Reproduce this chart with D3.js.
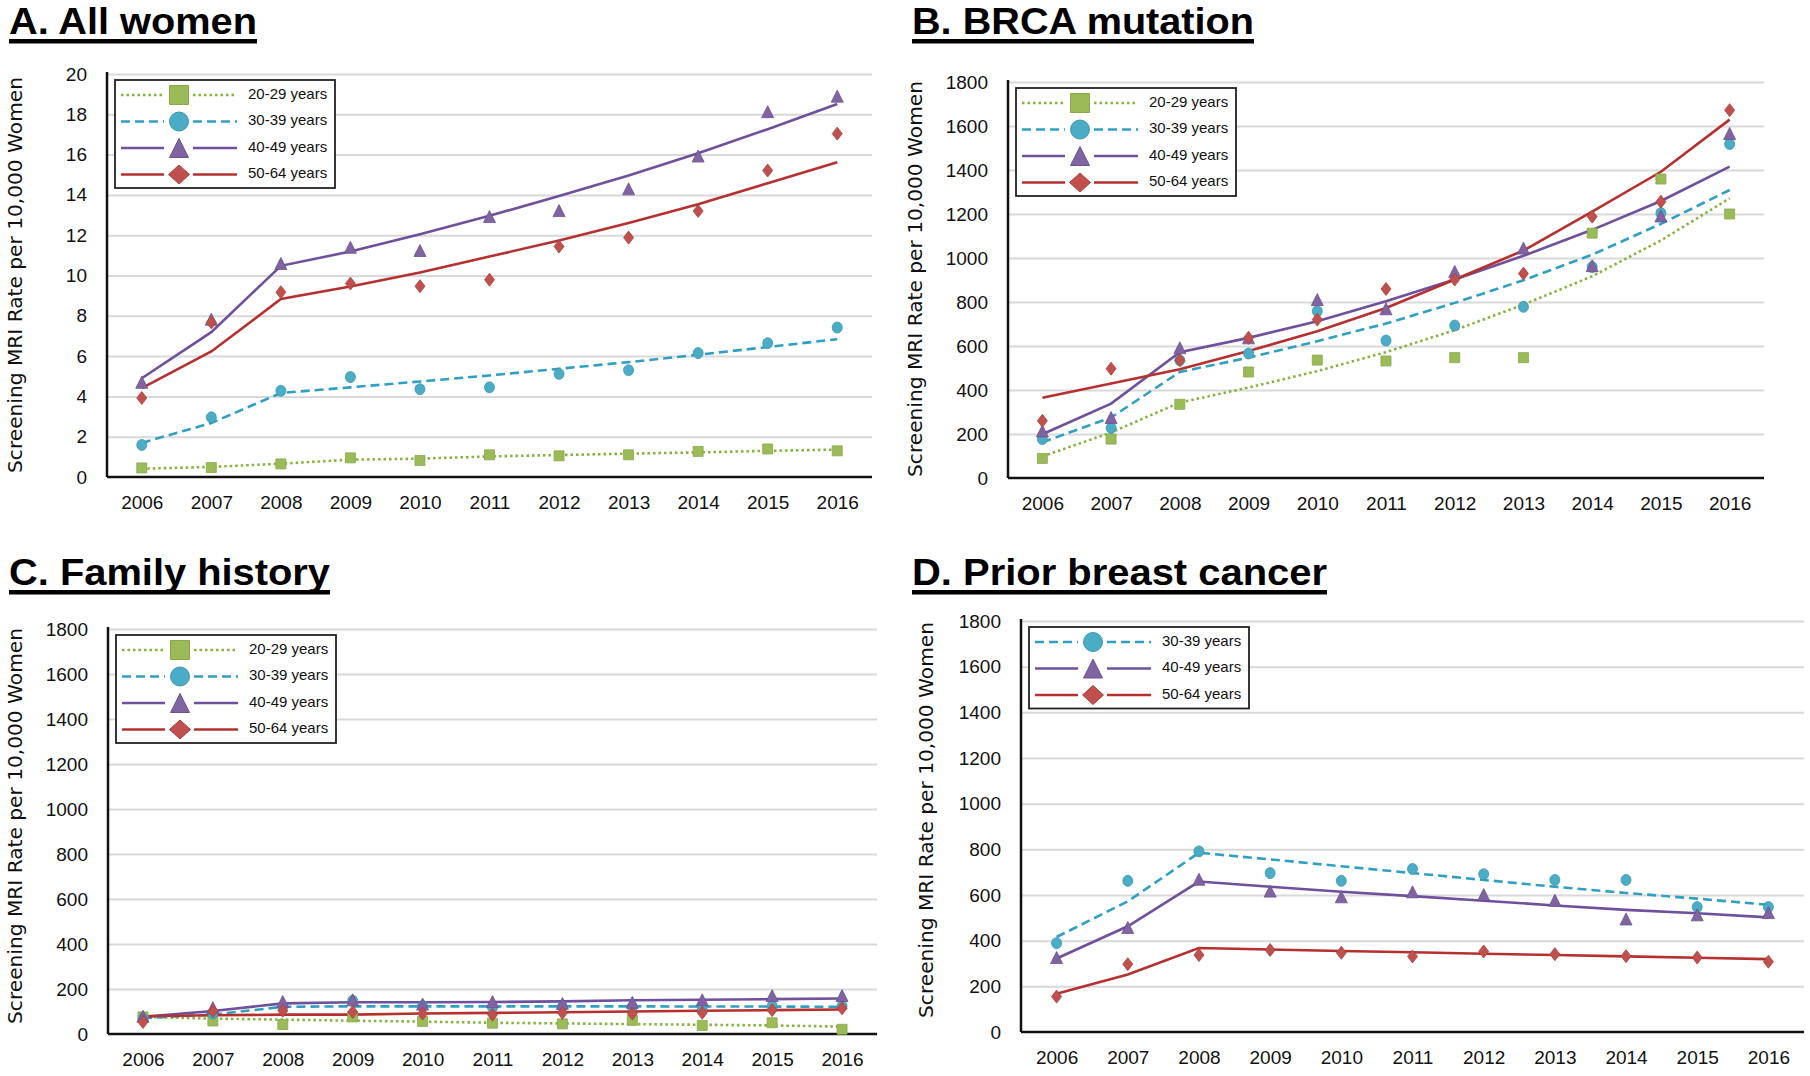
<!DOCTYPE html>
<html>
<head>
<meta charset="utf-8">
<script src="https://cdn.jsdelivr.net/npm/d3@7"></script>
<style>
  body { margin: 0; background: #fff; }
  svg { display: block; }
</style>
</head>
<body>
<script>
// ---- data ----
const years = [2006, 2007, 2008, 2009, 2010, 2011, 2012, 2013, 2014, 2015, 2016];
const ageGroups = ["20-29 years", "30-39 years", "40-49 years", "50-64 years"];
const rateTicks = [0, 2, 4, 6, 8, 10, 12, 14, 16, 18, 20];
const countTicks = [0, 200, 400, 600, 800, 1000, 1200, 1400, 1600, 1800];

// A. All women (points = observed, lines = fitted)
const allObs2029 = [0.45, 0.47, 0.65, 0.95, 0.82, 1.1, 1.05, 1.1, 1.27, 1.39, 1.3];
const allFit2029 = [0.41, 0.5, 0.66, 0.86, 0.91, 1.02, 1.09, 1.16, 1.22, 1.3, 1.36];
const allObs3039 = [1.59, 2.96, 4.28, 4.96, 4.36, 4.45, 5.12, 5.3, 6.15, 6.64, 7.42];
const allFit3039 = [1.69, 2.68, 4.17, 4.45, 4.74, 5.04, 5.37, 5.7, 6.07, 6.45, 6.84];
const allObs4049 = [4.7, 7.83, 10.6, 11.4, 11.24, 12.93, 13.22, 14.3, 15.93, 18.13, 18.9];
const allFit4049 = [4.9, 7.19, 10.48, 11.19, 12.05, 12.96, 13.95, 14.96, 16.07, 17.26, 18.51];
const allObs5064 = [3.92, 7.67, 9.17, 9.6, 9.47, 9.79, 11.44, 11.88, 13.2, 15.21, 17.04];
const allFit5064 = [4.41, 6.23, 8.83, 9.45, 10.15, 10.94, 11.74, 12.6, 13.54, 14.58, 15.62];

// B. BRCA mutation
const brcaObs2029 = [89, 177, 335, 482, 536, 532, 547, 547, 1113, 1359, 1200];
const brcaFit2029 = [98, 207, 343, 411, 486, 572, 672, 788, 917, 1080, 1271];
const brcaObs3039 = [177, 227, 535, 566, 758, 625, 693, 778, 959, 1204, 1518];
const brcaFit3039 = [162, 275, 482, 547, 622, 702, 796, 899, 1015, 1155, 1309];
const brcaObs4049 = [214, 275, 592, 637, 811, 769, 939, 1045, 965, 1191, 1566];
const brcaFit4049 = [199, 338, 572, 637, 713, 803, 902, 1010, 1128, 1259, 1415];
const brcaObs5064 = [260, 497, 535, 637, 720, 859, 902, 929, 1188, 1256, 1672];
const brcaFit5064 = [365, 430, 494, 577, 667, 773, 902, 1034, 1211, 1392, 1629];

// C. Family history
const famObs2029 = [76, 58, 42, 76, 56, 48, 45, 61, 38, 50, 21];
const famFit2029 = [76, 68, 64, 59, 55, 50, 47, 44, 41, 38, 33];
const famObs3039 = [68, 91, 121, 148, 124, 118, 121, 121, 118, 124, 124];
const famFit3039 = [71, 86, 121, 123, 123, 123, 123, 123, 122, 122, 121];
const famObs4049 = [79, 117, 144, 152, 133, 144, 136, 141, 152, 171, 171];
const famFit4049 = [76, 102, 136, 141, 141, 142, 145, 150, 152, 155, 158];
const famObs5064 = [53, 102, 103, 98, 91, 86, 94, 91, 94, 106, 114];
const famFit5064 = [79, 83, 86, 86, 91, 94, 97, 100, 103, 106, 109];

// D. Prior breast cancer (no 20-29 group)
const priorObs3039 = [389, 662, 791, 696, 662, 714, 691, 666, 666, 547, 547];
const priorFit3039 = [416, 572, 785, 756, 726, 696, 666, 636, 609, 584, 557];
const priorObs4049 = [326, 458, 669, 617, 592, 614, 602, 577, 495, 513, 523];
const priorFit4049 = [322, 463, 659, 636, 614, 595, 575, 554, 535, 520, 502];
const priorObs5064 = [155, 297, 337, 359, 347, 331, 353, 341, 332, 326, 308];
const priorFit5064 = [167, 252, 368, 361, 355, 349, 343, 337, 331, 325, 319];

// ---- styles ----
const styles = {
  "20-29 years": {shape: "square", fill: "#9bbb59", edge: "#86a84a", line: "#86b33d", dash: "2.5,3"},
  "30-39 years": {shape: "circle", fill: "#4bacc6", edge: "#3d97b0", line: "#2f9fc2", dash: "9,5"},
  "40-49 years": {shape: "triangle", fill: "#8064a2", edge: "#6b5190", line: "#6e509c", dash: null},
  "50-64 years": {shape: "diamond", fill: "#c0504d", edge: "#a8403d", line: "#b5302e", dash: null}
};

const panels = [
  {title: "A. All women", tx: 9, ty: 34, tw: 248, left: 107, right: 872, top: 74, bottom: 477,
   ticks: rateTicks, labelX: 22, labelY: 275,
   obs: [allObs2029, allObs3039, allObs4049, allObs5064],
   fit: [allFit2029, allFit3039, allFit4049, allFit5064], groups: ageGroups},
  {title: "B. BRCA mutation", tx: 912, ty: 34, tw: 342, left: 1008, right: 1764, top: 82, bottom: 478,
   ticks: countTicks, labelX: 922, labelY: 279,
   obs: [brcaObs2029, brcaObs3039, brcaObs4049, brcaObs5064],
   fit: [brcaFit2029, brcaFit3039, brcaFit4049, brcaFit5064], groups: ageGroups},
  {title: "C. Family history", tx: 9, ty: 585, tw: 321, left: 108, right: 877, top: 629, bottom: 1034,
   ticks: countTicks, labelX: 22, labelY: 826,
   obs: [famObs2029, famObs3039, famObs4049, famObs5064],
   fit: [famFit2029, famFit3039, famFit4049, famFit5064], groups: ageGroups},
  {title: "D. Prior breast cancer", tx: 912, ty: 585, tw: 415, left: 1021, right: 1804, top: 621, bottom: 1032,
   ticks: countTicks, labelX: 933, labelY: 820,
   obs: [priorObs3039, priorObs4049, priorObs5064],
   fit: [priorFit3039, priorFit4049, priorFit5064], groups: ageGroups.slice(1)}
];

function markerPath(shape, w, h) {
  const a = w / 2, b = h / 2;
  if (shape === "square") return `M${-a},${-b}H${a}V${b}H${-a}Z`;
  if (shape === "triangle") return `M0,${-b}L${a},${b}L${-a},${b}Z`;
  if (shape === "diamond") return `M0,${-b}L${a},0L0,${b}L${-a},0Z`;
  return `M${a},0A${a},${b} 0 1,1 ${-a},0A${a},${b} 0 1,1 ${a},0Z`;
}
const plotSize = {square: [10, 10], circle: [10, 11], triangle: [12, 12], diamond: [10, 13]};
const legendSize = {square: [19, 19], circle: [19, 19], triangle: [19, 19], diamond: [21, 19]};

const svg = d3.select("body").append("svg")
  .attr("width", 1810)
  .attr("height", 1076)
  .style("background", "#fff");

const tickFont = "'Liberation Sans', Arial, sans-serif";

panels.forEach(p => {
  const g = svg.append("g");

  // title with underline
  g.append("text")
    .attr("x", p.tx).attr("y", p.ty)
    .attr("textLength", p.tw).attr("lengthAdjust", "spacingAndGlyphs")
    .style("font-family", tickFont)
    .style("font-weight", "bold")
    .style("font-size", "37px")
    .style("fill", "#000")
    .text(p.title);
  g.append("rect")
    .attr("x", p.tx).attr("y", p.ty + 5)
    .attr("width", p.tw).attr("height", 4.5)
    .attr("fill", "#000");

  const x = d3.scalePoint().domain(years).range([p.left, p.right]).padding(0.5);
  const y = d3.scaleLinear().domain([0, d3.max(p.ticks)]).range([p.bottom, p.top]);

  // gridlines
  g.append("g")
    .attr("transform", `translate(${p.left},0)`)
    .call(d3.axisLeft(y).tickValues(p.ticks.slice(1)).tickSize(-(p.right - p.left)).tickFormat(""))
    .call(a => a.select(".domain").remove())
    .call(a => a.selectAll("line").attr("stroke", "#d9d9d9").attr("stroke-width", 2));

  // y tick labels
  g.append("g")
    .attr("transform", `translate(${p.left},0)`)
    .call(d3.axisLeft(y).tickValues(p.ticks).tickSize(0).tickPadding(20).tickFormat(d3.format("d")))
    .call(a => a.select(".domain").remove())
    .call(a => a.selectAll("text")
      .style("font-family", tickFont).style("font-size", "19px").style("fill", "#111"));

  // x tick labels
  g.append("g")
    .attr("transform", `translate(0,${p.bottom})`)
    .call(d3.axisBottom(x).tickSize(0).tickPadding(19))
    .call(a => a.select(".domain").remove())
    .call(a => a.selectAll("text")
      .style("font-family", tickFont).style("font-size", "19px").style("fill", "#111"));

  // axis lines
  g.append("line")
    .attr("x1", p.left).attr("x2", p.left).attr("y1", p.top - 2).attr("y2", p.bottom)
    .attr("stroke", "#111").attr("stroke-width", 2.5);
  g.append("line")
    .attr("x1", p.left).attr("x2", p.right).attr("y1", p.bottom).attr("y2", p.bottom)
    .attr("stroke", "#111").attr("stroke-width", 2.5);

  // y axis title
  g.append("text")
    .attr("transform", `translate(${p.labelX},${p.labelY}) rotate(-90)`)
    .attr("text-anchor", "middle")
    .attr("textLength", 396).attr("lengthAdjust", "spacingAndGlyphs")
    .style("font-family", "'DejaVu Sans', Verdana, sans-serif")
    .style("font-size", "20px")
    .style("fill", "#111")
    .text("Screening MRI Rate per 10,000 Women");

  const lineGen = d3.line().x((d, i) => x(years[i])).y(d => y(d));

  // fitted lines
  p.groups.forEach((grp, k) => {
    const st = styles[grp];
    g.append("path")
      .datum(p.fit[k])
      .attr("d", lineGen)
      .attr("fill", "none")
      .attr("stroke", st.line)
      .attr("stroke-width", 2.6)
      .attr("stroke-dasharray", st.dash);
  });

  // observed points
  p.groups.forEach((grp, k) => {
    const st = styles[grp];
    const sz = plotSize[st.shape];
    g.append("g").selectAll("path")
      .data(p.obs[k])
      .join("path")
      .attr("transform", (d, i) => `translate(${x(years[i])},${y(d)})`)
      .attr("d", markerPath(st.shape, sz[0], sz[1]))
      .attr("fill", st.fill)
      .attr("stroke", st.edge)
      .attr("stroke-width", 0.8);
  });

  // legend
  const lx = p.left + 8, ly = p.top + 6;
  const rowH = 26.5;
  const leg = g.append("g").attr("transform", `translate(${lx},${ly})`);
  leg.append("rect")
    .attr("width", 220).attr("height", p.groups.length * rowH + 2)
    .attr("fill", "#fff").attr("stroke", "#222").attr("stroke-width", 1.8);
  p.groups.forEach((grp, k) => {
    const st = styles[grp];
    const cy = 15 + k * rowH;
    [[6, 49], [78, 122]].forEach(seg => {
      leg.append("line")
        .attr("x1", seg[0]).attr("x2", seg[1]).attr("y1", cy).attr("y2", cy)
        .attr("stroke", st.line).attr("stroke-width", 2.6)
        .attr("stroke-dasharray", st.dash);
    });
    const sz = legendSize[st.shape];
    leg.append("path")
      .attr("transform", `translate(64,${cy})`)
      .attr("d", markerPath(st.shape, sz[0], sz[1]))
      .attr("fill", st.fill).attr("stroke", st.edge).attr("stroke-width", 1);
    leg.append("text")
      .attr("x", 133).attr("y", cy)
      .attr("dominant-baseline", "middle")
      .style("font-family", tickFont)
      .style("font-size", "15px")
      .style("fill", "#111")
      .text(grp);
  });
});
</script>
</body>
</html>
